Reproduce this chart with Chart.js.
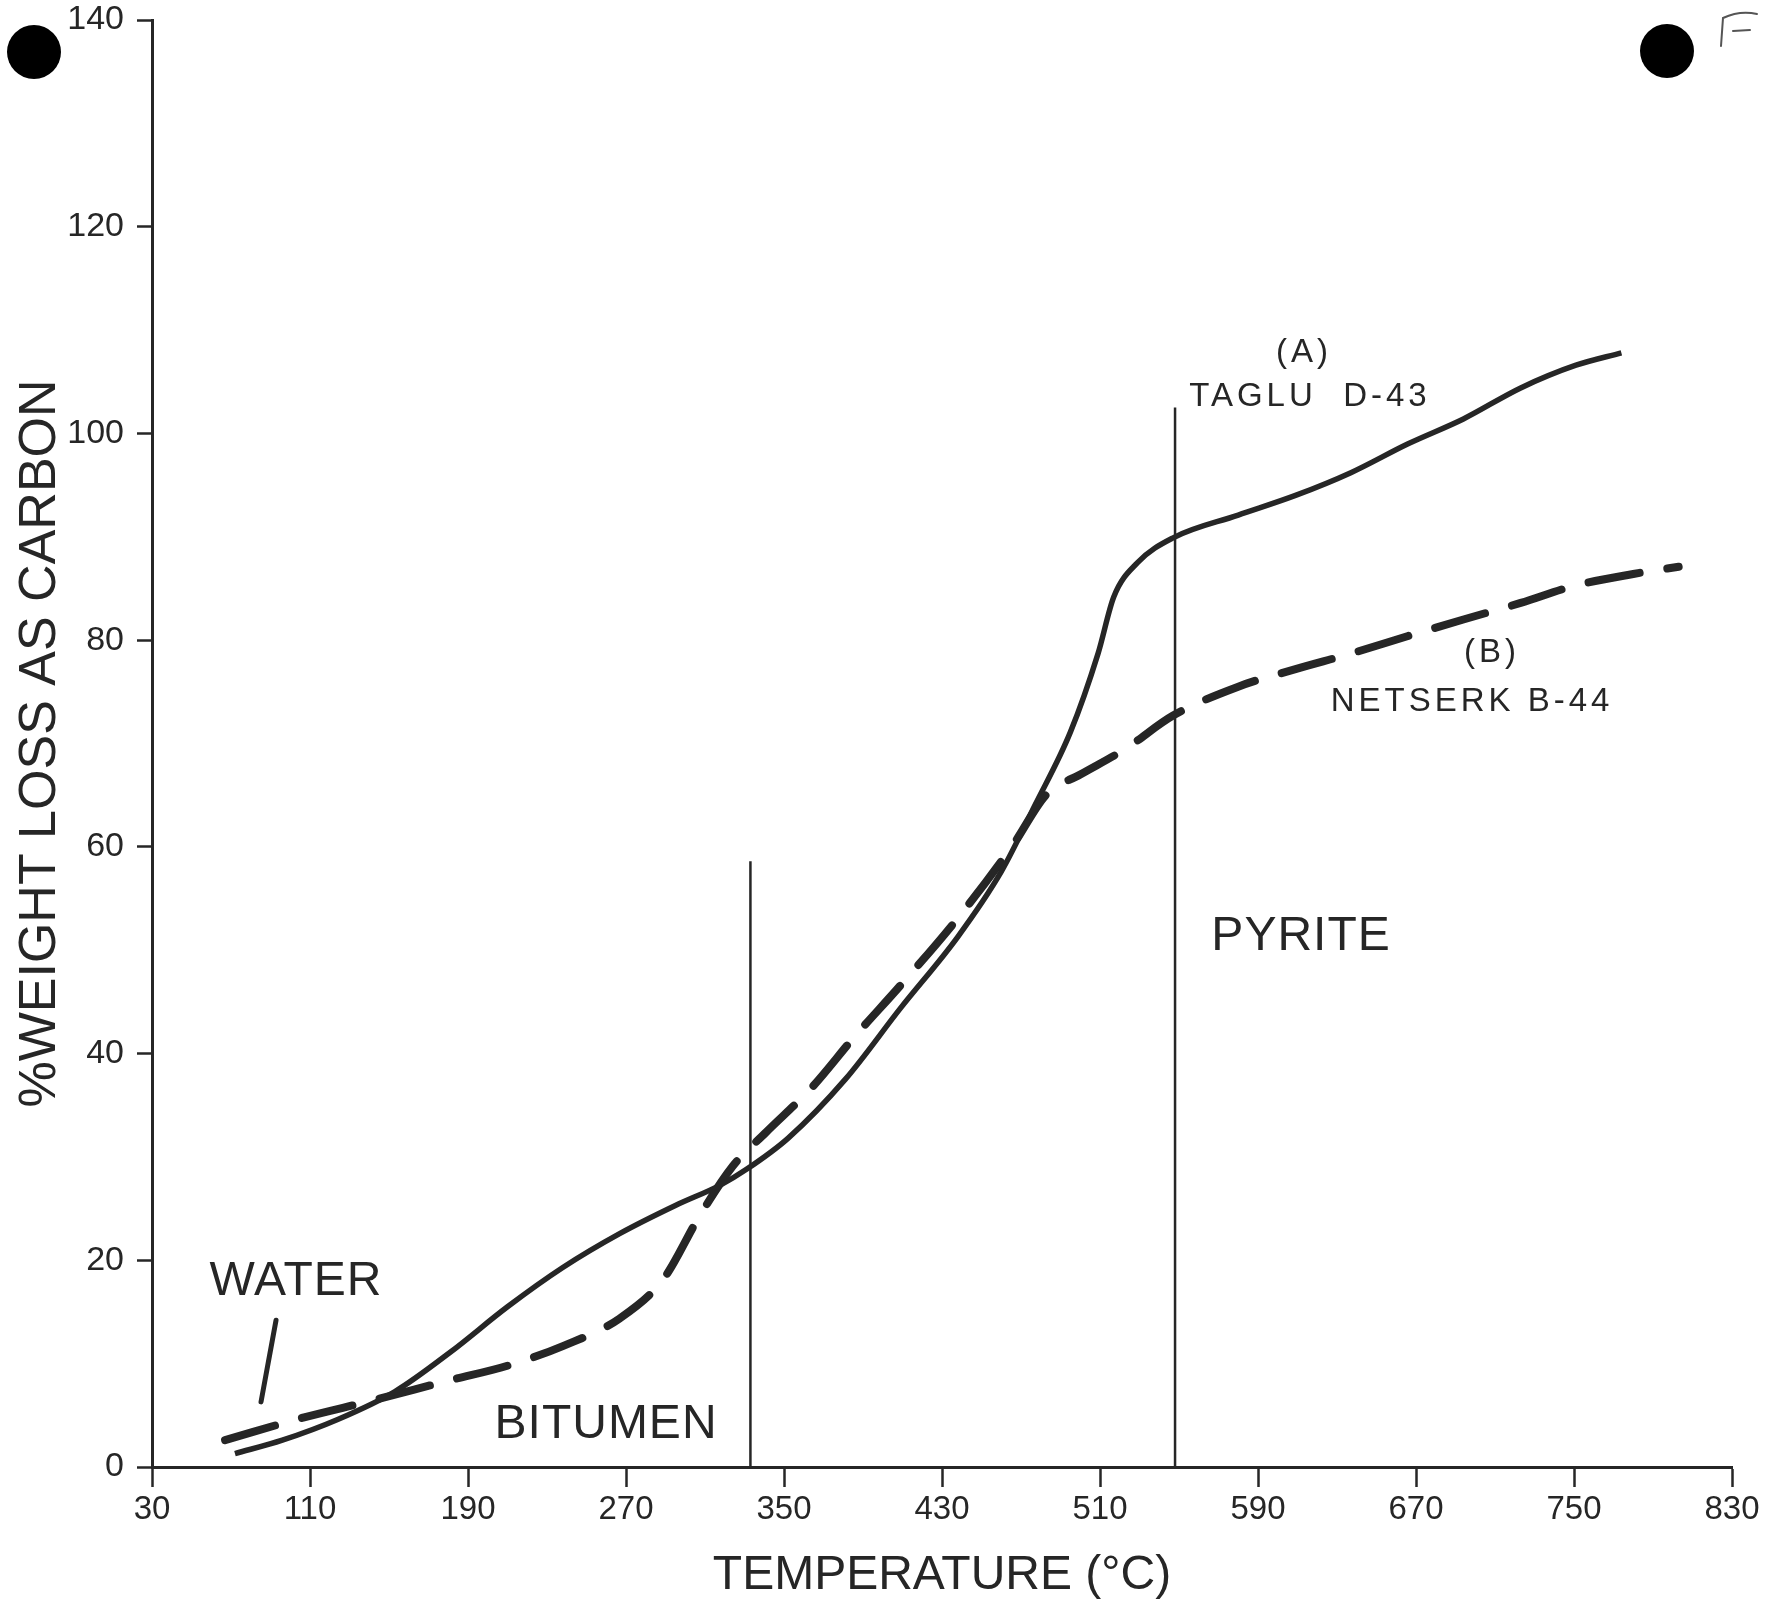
<!DOCTYPE html>
<html><head><meta charset="utf-8">
<script src="https://cdn.jsdelivr.net/npm/chart.js@4"></script>
<style>html,body{margin:0;padding:0;background:#fff;}#wrap{width:1766px;height:1602px;position:relative;}</style>
</head><body><div id="wrap"><canvas id="c" width="1766" height="1602"></canvas></div>
<script>
// ---- data ----
const xTickValues = [30,110,190,270,350,430,510,590,670,750,830];
const yTickValues = [0,20,40,60,80,100,120,140];

const tagluTemp = [72,96,124,153,181,210,238,267,295,318,331,352,381,409,438,460,477,495,509,517,529,547,580,609,637,666,694,723,751,774];
const tagluLoss = [1.3,2.6,4.6,7.3,11.1,15.5,19.3,22.6,25.3,27.3,28.8,31.8,37.5,44.4,51.3,57.6,64.0,71.1,78.7,84.2,87.5,89.9,92.1,94.0,96.2,99.0,101.4,104.4,106.6,107.8];

const netserkTemp = [67,107,141,181,210,238,267,289,307,324,341,364,386,409,438,466,483,500,523,547,580,609,637,666,694,723,751,780,803];
const netserkLoss = [2.6,4.8,6.4,8.4,9.8,11.7,14.4,18.2,24.2,29.1,32.4,36.7,41.7,46.6,53.1,60.2,65.1,67.0,69.5,72.7,75.5,77.2,78.7,80.4,82.0,83.6,85.3,86.4,87.1];

const bitumenBoundaryTemp = [333,333];
const bitumenBoundaryLoss = [0,58.6];
const pyriteBoundaryTemp = [548,548];
const pyriteBoundaryLoss = [0,102.5];
const waterPointerTemp = [92.8,85.2];
const waterPointerLoss = [14.2,6.3];

const labelTexts = ['WATER','BITUMEN','PYRITE','(A)','TAGLU  D-43','(B)','NETSERK B-44'];
const labelTemp  = [102.9,259.9,611.8,613.3,616.3,708.5,698.4];
const labelLoss  = [17.9,4.1,51.3,107.8,103.5,78.8,74.0];

// ---- chart ----
const INK = '#262626';
const FONT = "'Liberation Sans', Arial, sans-serif";
const pts = (xs, ys) => xs.map((x,i)=>({x:x, y:ys[i]}));

const labelPlugin = {
  id: 'labels',
  afterDatasetsDraw(chart) {
    const ctx = chart.ctx, xs = chart.scales.x, ys = chart.scales.y;
    ctx.save();
    ctx.fillStyle = INK;
    ctx.textAlign = 'center';
    ctx.textBaseline = 'middle';
    labelTexts.forEach((t,i)=>{
      const big = i < 3;
      ctx.font = (big ? '48px ' : '33px ') + FONT;
      ctx.letterSpacing = big ? '1px' : '4px';
      ctx.fillText(t, xs.getPixelForValue(labelTemp[i]), ys.getPixelForValue(labelLoss[i]));
    });
    ctx.restore();
  },
  afterDraw(chart) {
    const ctx = chart.ctx;
    ctx.save();
    ctx.fillStyle = '#000';
    ctx.beginPath(); ctx.arc(34,52,27,0,Math.PI*2); ctx.fill();
    ctx.beginPath(); ctx.arc(1667,51,27,0,Math.PI*2); ctx.fill();
    ctx.strokeStyle = '#555'; ctx.lineWidth = 2; ctx.lineCap='round';
    ctx.beginPath(); ctx.moveTo(1721,46); ctx.lineTo(1723,18); ctx.quadraticCurveTo(1740,10,1757,14); ctx.stroke();
    ctx.beginPath(); ctx.moveTo(1733,31); ctx.lineTo(1750,30); ctx.stroke();
    ctx.restore();
  }
};

new Chart(document.getElementById('c'), {
  type: 'line',
  data: {
    datasets: [
      { label:'(A) TAGLU D-43', data: pts(tagluTemp,tagluLoss), borderColor: INK, borderWidth: 5.5,
        pointRadius: 0, cubicInterpolationMode: 'monotone', fill:false },
      { label:'(B) NETSERK B-44', data: pts(netserkTemp,netserkLoss), borderColor: INK, borderWidth: 8,
        borderDash:[52,28], borderCapStyle:'round', pointRadius: 0, cubicInterpolationMode: 'monotone', fill:false },
      { label:'bitumen boundary', data: pts(bitumenBoundaryTemp,bitumenBoundaryLoss), borderColor: INK, borderWidth: 2.5, pointRadius:0 },
      { label:'pyrite boundary', data: pts(pyriteBoundaryTemp,pyriteBoundaryLoss), borderColor: INK, borderWidth: 2.5, pointRadius:0 },
      { label:'water pointer', data: pts(waterPointerTemp,waterPointerLoss), borderColor: INK, borderWidth: 5, borderCapStyle:'round', pointRadius:0 }
    ]
  },
  options: {
    responsive: false,
    animation: false,
    layout: { autoPadding: false, padding: { top: 20, right: 34, bottom: 0, left: 0 } },
    plugins: { legend: { display: false }, tooltip: { enabled: false } },
    scales: {
      x: {
        type: 'linear', min: 30, max: 830,
        afterBuildTicks: s => { s.ticks = xTickValues.map(v=>({value:v})); },
        afterFit: s => { s.height = 135; },
        ticks: { color: INK, font: { family: FONT, size: 33 }, padding: 3, maxRotation: 0, autoSkip: false },
        grid: { display: true, drawOnChartArea: false, drawTicks: true, tickLength: 20, tickWidth: 2.5, tickColor: INK },
        border: { display: true, width: 3, color: INK },
        title: { display: true, text: 'TEMPERATURE (°C)', color: INK, font: { family: FONT, size: 48, lineHeight: 1 }, padding: { top: 0, bottom: 2 } }
      },
      y: {
        type: 'linear', min: 0, max: 140,
        afterBuildTicks: s => { s.ticks = yTickValues.map(v=>({value:v})); },
        afterFit: s => { s.width = 152; s.paddingTop = 0; },
        ticks: { color: INK, font: { family: FONT, size: 34, lineHeight: 0.6 }, padding: 13 },
        grid: { display: true, drawOnChartArea: false, drawTicks: true, tickLength: 15, tickWidth: 2.5, tickColor: INK },
        border: { display: true, width: 3, color: INK },
        title: { display: true, text: '%WEIGHT LOSS AS CARBON', color: INK, font: { family: FONT, size: 52, lineHeight: 1.2 }, padding: { top: 9, bottom: 0 } }
      }
    }
  },
  plugins: [labelPlugin]
});
</script></body></html>
